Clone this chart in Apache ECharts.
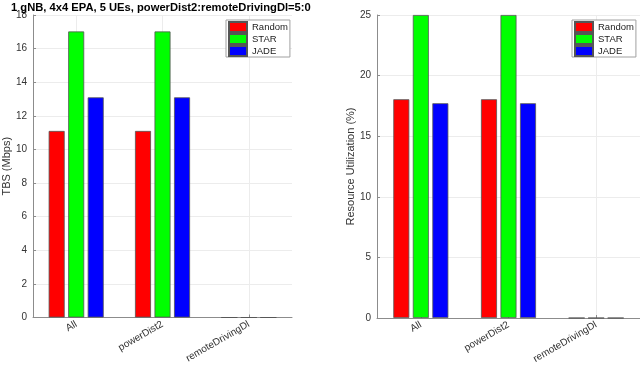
<!DOCTYPE html>
<html><head><meta charset="utf-8">
<script src="https://cdn.jsdelivr.net/npm/echarts@6/dist/echarts.min.js"></script>
<style>html,body{margin:0;padding:0;background:#fff}#c{width:640px;height:368px}</style>
</head><body><div id="c"></div>
<script>
const categories = ['All', 'powerDist2', 'remoteDrivingDl'];
const seriesNames = ['Random', 'STAR', 'JADE'];
const tbsRandom = [11.1, 11.1, 0];
const tbsSTAR = [17.02, 17.02, 0];
const tbsJADE = [13.1, 13.1, 0];
const ruRandom = [18.05, 18.05, 0];
const ruSTAR = [25, 25, 0];
const ruJADE = [17.72, 17.72, 0];
const colors = ['#ff0000', '#00ff00', '#0000ff'];
const titleText = '1 gNB, 4x4 EPA, 5 UEs, powerDist2:remoteDrivingDl=5:0';

const FONT = 'Liberation Sans, Arial, sans-serif';
const chart = echarts.init(document.getElementById('c'), null, {renderer: 'canvas'});

// helper positions for vertical grid lines at category centres (2*n+1 slots)
const gridSlots = [];
for (let i = 0; i <= categories.length * 2; i++) gridSlots.push(String(i));

function xAx(gi) {
  return {
    type: 'category', gridIndex: gi, data: categories,
    axisLine: {lineStyle: {color: '#8c8c8c', width: 1}},
    axisTick: {show: true, inside: true, length: 3, alignWithLabel: true, lineStyle: {color: '#8c8c8c'}},
    axisLabel: {rotate: 30, fontFamily: FONT, fontSize: 10, color: '#333', margin: 6},
    splitLine: {show: false},
    boundaryGap: true
  };
}
function xGridAx(gi) {
  return {
    type: 'category', gridIndex: gi, data: gridSlots, boundaryGap: false,
    position: 'bottom',
    axisLine: {show: false}, axisTick: {show: false}, axisLabel: {show: false},
    splitLine: {show: true, interval: function (idx) { return idx % 2 === 1; },
      lineStyle: {color: '#ececec'}}
  };
}
function yAx(gi, max, interval, name, gap) {
  return {
    type: 'value', gridIndex: gi, min: 0, max: max, interval: interval,
    name: name, nameLocation: 'middle', nameGap: gap,
    nameTextStyle: {fontFamily: FONT, fontSize: 11, color: '#333'},
    axisLine: {show: true, lineStyle: {color: '#8c8c8c', width: 1}},
    axisTick: {show: true, inside: true, length: 3, lineStyle: {color: '#8c8c8c'}},
    axisLabel: {fontFamily: FONT, fontSize: 10, color: '#333', margin: 6},
    splitLine: {show: true, lineStyle: {color: '#ececec'}}
  };
}
function bar(name, data, gi, ci) {
  return {
    name: name, type: 'bar', xAxisIndex: gi, yAxisIndex: gi, data: data,
    barWidth: 16, barGap: '22%', z: 3,
    itemStyle: {color: colors[ci], borderColor: '#555', borderWidth: 0.8},
    emphasis: {disabled: true}, animation: false
  };
}
function legend(left) {
  return {
    data: seriesNames, orient: 'vertical', left: left, top: 20,
    icon: 'rect', itemWidth: 18, itemHeight: 10, itemGap: 0,
    padding: [1, 2, 0, 2],
    backgroundColor: '#fff', borderColor: '#a0a0a0', borderWidth: 1,
    textStyle: {fontFamily: FONT, fontSize: 9.5, color: '#222'},
    selectedMode: false
  };
}

chart.setOption({
  animation: false,
  title: {text: titleText, left: 11, top: 0, padding: [2, 0, 0, 0],
    textStyle: {fontFamily: FONT, fontSize: 11.2, fontWeight: 'bold', color: '#000'}},
  grid: [
    {left: 30, top: 15, width: 262, bottom: 50.5},
    {left: 377, top: 15, width: 263, bottom: 50}
  ],
  xAxis: [xAx(0), xAx(1), xGridAx(0), xGridAx(1)],
  yAxis: [yAx(0, 18, 2, 'TBS (Mbps)', 14), yAx(1, 25, 5, 'Resource Utilization (%)', 13)],
  legend: [legend(226), legend(572)],
  series: [
    bar('Random', tbsRandom, 0, 0), bar('STAR', tbsSTAR, 0, 1), bar('JADE', tbsJADE, 0, 2),
    bar('Random', ruRandom, 1, 0), bar('STAR', ruSTAR, 1, 1), bar('JADE', ruJADE, 1, 2)
  ]
});
</script></body></html>
